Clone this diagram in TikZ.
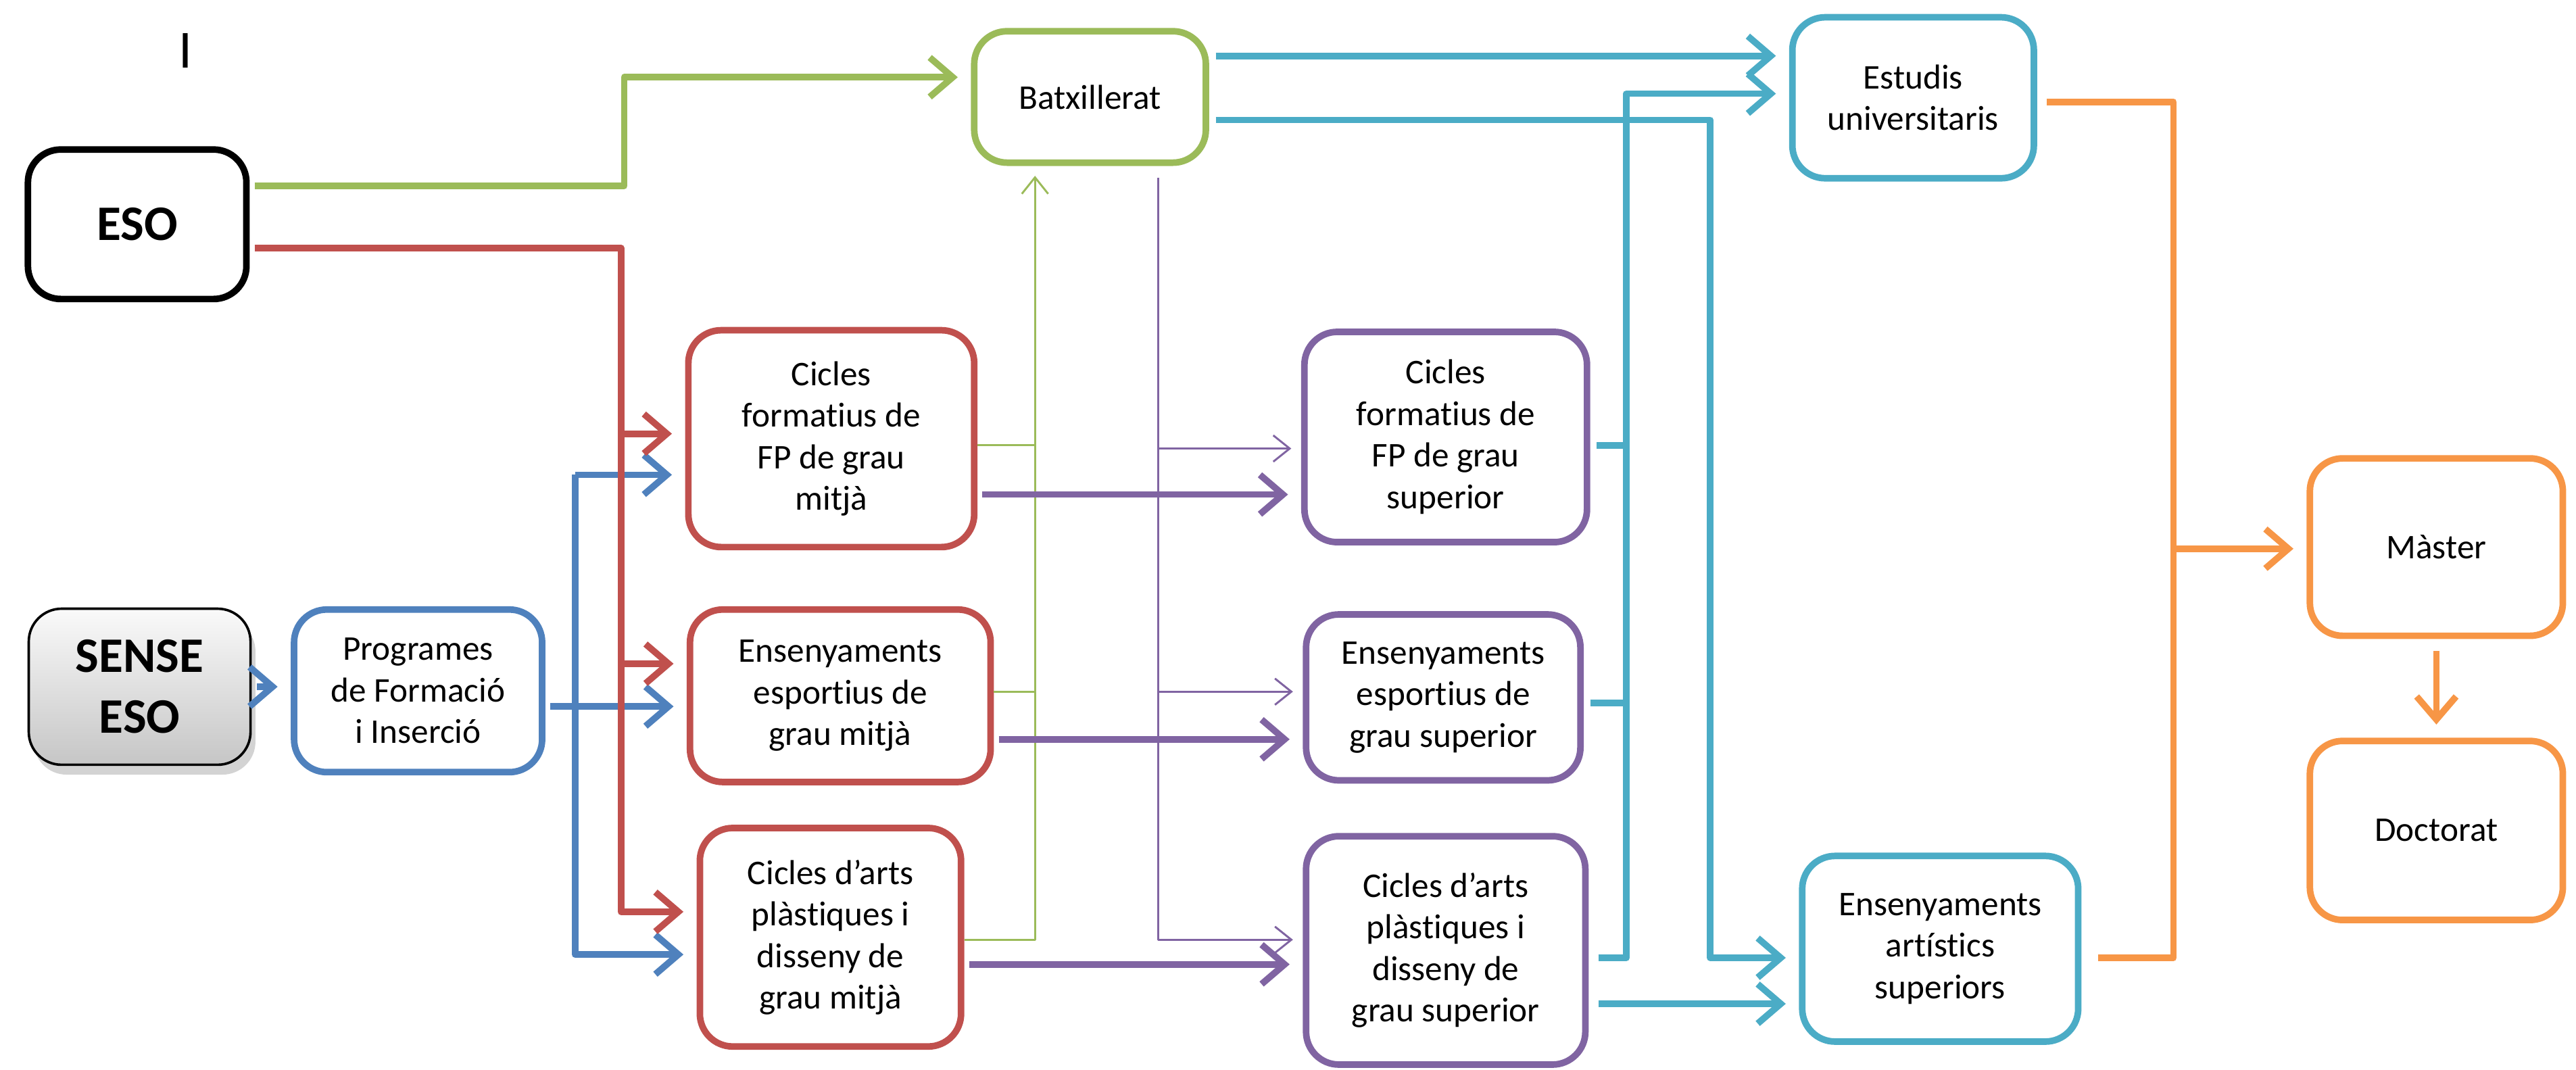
\documentclass[tikz,border=0pt]{standalone}
\usepackage{fontspec}
\setmainfont{Carlito}[RawFeature=-liga,RawFeature=-clig,RawFeature=-calt,RawFeature=-dlig]
\usepackage{xcolor}
\usetikzlibrary{arrows.meta,shadows}
\definecolor{ogreen}{HTML}{9BBB59}
\definecolor{ored}{HTML}{C0504D}
\definecolor{oblue}{HTML}{4F81BD}
\definecolor{opurple}{HTML}{8064A2}
\definecolor{oteal}{HTML}{4BACC6}
\definecolor{oorange}{HTML}{F79646}

\begin{document}
\begin{tikzpicture}[line join=round,x=0.1mm,y=-0.1mm,
    box/.style={draw,line width=0.4mm,rounded corners=2mm,fill=white,align=center,inner sep=0pt,font=\fontsize{6}{7.2}\selectfont},
    bigtext/.style={font=\fontsize{8.6}{10.5}\selectfont\bfseries},
    link/.style={line width=0.4mm},
    flow/.style={link,shorten >=0.8mm,-{Straight Barb[length=1.4mm,width=2.4mm]}},
    thinlink/.style={line width=0.12mm},
    thinflow/.style={thinlink,shorten >=0.6mm,-{Straight Barb[length=1mm,width=1.6mm]}}]
    \useasboundingbox (0,0) rectangle (1568,651);
    \node[font=\fontsize{9.3}{11}\selectfont] (cursor) at (113,31) {I};
    % first column
    \node[box,bigtext,minimum width=13.3mm,minimum height=9.1mm] (eso) at (83.5,136.5) {ESO};
    \node[box,bigtext,line width=0.15mm,top color=gray!4,bottom color=gray!45,
          drop shadow={shadow xshift=0.3mm,shadow yshift=-0.6mm,opacity=0.35},
          minimum width=13.5mm,minimum height=9.5mm] (sense) at (85,418) {SENSE\\ESO};
    \node[box,draw=oblue,minimum width=15.1mm,minimum height=9.9mm] (pfi) at (254.5,420.5) {Programes\\de Formació\\i Inserció};
    % grau mitja
    \node[box,draw=ogreen,minimum width=14.1mm,minimum height=8mm] (batx) at (663.5,59) {Batxillerat};
    \node[box,draw=ored,minimum width=17.4mm,minimum height=13.2mm] (cfgm) at (506,267) {Cicles\\formatius de\\FP de grau\\mitjà};
    \node[box,draw=ored,minimum width=18.3mm,minimum height=10.5mm] (eegm) at (511.5,423.5) {Ensenyaments\\esportius de\\grau mitjà};
    \node[box,draw=ored,minimum width=15.9mm,minimum height=13.3mm] (capgm) at (505.5,570.5) {Cicles d’arts\\plàstiques i\\disseny de\\grau mitjà};
    % grau superior
    \node[box,draw=opurple,minimum width=17.2mm,minimum height=12.8mm] (cfgs) at (880,266) {Cicles\\formatius de\\FP de grau\\superior};
    \node[box,draw=opurple,minimum width=16.7mm,minimum height=10.1mm] (eegs) at (878.5,424.5) {Ensenyaments\\esportius de\\grau superior};
    \node[box,draw=opurple,minimum width=17mm,minimum height=13.9mm] (capgs) at (880,578.5) {Cicles d’arts\\plàstiques i\\disseny de\\grau superior};
    \node[box,draw=oteal,minimum width=14.7mm,minimum height=9.8mm] (univ) at (1164.5,59.5) {Estudis\\universitaris};
    \node[box,draw=oteal,minimum width=16.8mm,minimum height=11.3mm] (eas) at (1181,577.5) {Ensenyaments\\artístics\\superiors};
    \node[box,draw=oorange,minimum width=15.4mm,minimum height=10.8mm] (master) at (1483,333) {Màster};
    \node[box,draw=oorange,minimum width=15.4mm,minimum height=10.9mm] (doct) at (1483,505.5) {Doctorat};

    \draw[flow,ogreen,shorten <=0.3mm] (eso.east |- 0,113) -| (380,47) -- (batx.west |- 0,47);
    \draw[flow,oblue,shorten <=0.3mm] (sense.east) -- (sense.east -| pfi.west);
    \draw[flow,oblue,shorten <=0.3mm] (pfi.east |- 0,430) -- (eegm.west |- 0,430);
    \draw[flow,oblue] (350,289) -- (cfgm.west |- 0,289);
    \draw[flow,oblue] (350,289) |- (capgm.west |- 0,581);
    \draw[flow,ored,shorten <=0.3mm] (eso.east |- 0,151) -| (378,555) -- (capgm.west |- 0,555);
    \foreach \n/\y in {cfgm/264,eegm/404}
        \draw[flow,ored] (378,\y) -- (\n.west |- 0,\y);

    \draw[thinflow,ogreen] (capgm.east |- 0,572) -| (batx.south -| 630,0);
    \foreach \n/\y in {cfgm/271,eegm/421}
        \draw[thinlink,ogreen] (\n.east |- 0,\y) -- (630,\y);
    \draw[thinflow,opurple,shorten <=0.7mm] (batx.south -| 705,0) |- (capgs.west |- 0,572);
    \foreach \n/\y in {cfgs/273,eegs/421}
        \draw[thinflow,opurple] (705,\y) -- (\n.west |- 0,\y);
    \foreach \a/\b/\y in {cfgm/cfgs/301,eegm/eegs/450,capgm/capgs/587}
        \draw[flow,opurple,shorten <=0.3mm] (\a.east |- 0,\y) -- (\b.west |- 0,\y);

    \draw[flow,oteal,shorten <=0.4mm] (batx.east |- 0,34) -- (univ.west |- 0,34);
    \draw[flow,oteal,shorten <=0.4mm] (batx.east |- 0,73) -| (1041,583) -- (eas.west |- 0,583);
    \draw[flow,oteal,shorten <=0.6mm] (capgs.east |- 0,583) -| (990,57) -- (univ.west |- 0,57);
    \foreach \n/\y in {cfgs/271,eegs/428}
        \draw[link,oteal,shorten <=0.4mm] (\n.east |- 0,\y) -- (990,\y);
    \draw[flow,oteal,shorten <=0.6mm] (capgs.east |- 0,611) -- (eas.west |- 0,611);

    \draw[link,oorange,shorten <=0.6mm,shorten >=1mm] (univ.east |- 0,62) -| (1323,583) -- (eas.east |- 0,583);
    \draw[flow,oorange] (1323,334) -- (master.west |- 0,334);
    \draw[flow,oorange,shorten <=0.7mm] (master.south) -- (doct.north);
\end{tikzpicture}
\end{document}
